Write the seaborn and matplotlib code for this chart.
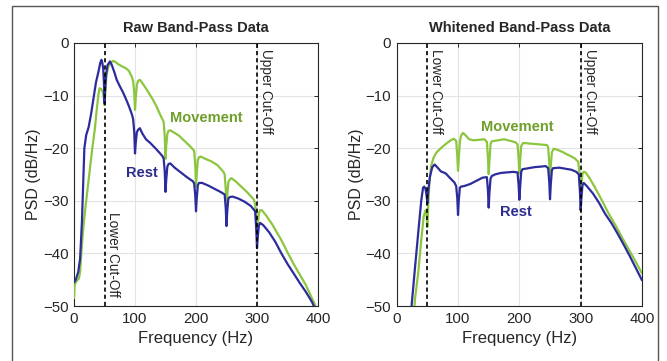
import numpy as np
import pandas as pd
import matplotlib
matplotlib.use("Agg")
import matplotlib.pyplot as plt
import seaborn as sns
from matplotlib.patches import Rectangle

# ---- data (frequency in Hz, PSD in dB/Hz) ----
raw_rest_f = [0, 3, 7, 10, 13, 15, 17, 20, 24, 28, 32, 36, 40, 43, 45, 46.5, 48, 49.2, 50, 51,
              52.5, 55, 59, 62, 66, 70, 75, 80, 85, 90, 95, 97, 98.8, 100, 101.2, 103, 105, 108,
              112, 118, 125, 135, 145, 147, 148.8, 150, 151.2, 153, 155, 158, 165, 175, 185, 195,
              197, 198.8, 200, 201.2, 203, 205, 210, 220, 230, 240, 247, 248.8, 250, 251.2, 253,
              255, 260, 270, 280, 290, 297, 298.8, 300, 301.2, 303, 305, 310, 320, 330, 340, 350,
              360, 370, 380, 390, 395]
raw_rest_v = [-45.5, -45, -43.5, -41, -34, -27, -20, -17.5, -16, -13.5, -10.5, -7.5, -5.5, -3.8,
              -3.2, -3.8, -5, -8, -11.5, -9, -6, -4.2, -3.5, -4.2, -5.5, -7, -8.2, -9.3, -10.6,
              -12, -13.6, -14.5, -17, -21, -19, -17, -16.5, -16.2, -17.2, -18.3, -19, -20.2,
              -21.5, -22, -24.5, -28.3, -26, -23.5, -23, -22.9, -23.7, -24.6, -25.5, -26.3, -26.7,
              -29, -32, -29.5, -27, -26.6, -26.6, -27.1, -27.7, -28.3, -28.8, -31.5, -34.8, -32,
              -29.6, -29.3, -29.2, -29.6, -30.2, -31, -32, -35.5, -39, -37, -34.8, -34.2, -34.6,
              -36, -37.8, -40, -42, -43.8, -45.6, -47.3, -49.2, -50.5]

raw_move_f = [0, 1, 4, 8, 10, 12, 15, 18, 22, 26, 30, 34, 37, 40, 42, 45, 47, 48.8, 50, 51.2,
              53, 56, 60, 64, 68, 72, 78, 85, 90, 95, 97, 98.8, 100, 101.2, 103, 105, 108, 112,
              120, 128, 135, 142, 147, 148.8, 150, 151.2, 153, 155, 158, 165, 172, 180, 190, 197,
              198.8, 200, 201.2, 203, 205, 208, 215, 225, 235, 245, 247, 248.8, 250, 251.2, 253,
              255, 258, 265, 275, 285, 295, 297, 298.8, 300, 301.2, 303, 305, 308, 315, 325, 340,
              350, 360, 370, 380, 390, 398]
raw_move_v = [-48.5, -46, -45.3, -44.8, -43.5, -40, -35.5, -32, -28, -24, -20, -16.5, -13, -9.8,
              -8.6, -8.8, -9.3, -10.3, -11.8, -9.5, -6.5, -4.5, -3.8, -3.4, -3.6, -4, -4.4, -4.8,
              -5.3, -6.5, -7.3, -9.5, -12.7, -10.5, -8, -7.2, -7, -7.6, -9, -10.5, -12, -13.8,
              -15, -17.8, -22, -19.5, -17.3, -16.7, -16.6, -17.1, -17.6, -18.5, -19.6, -20.5,
              -23.3, -27.3, -25, -22.3, -21.7, -21.6, -22, -22.5, -23.2, -24.5, -25, -27.8, -31.4,
              -29, -26.5, -26, -25.7, -26.3, -27.4, -28.5, -29.8, -30.6, -33.5, -36.8, -34.5,
              -32.5, -31.8, -31.8, -32.8, -34.5, -37.5, -39.8, -42, -44, -46, -48.5, -50.5]

wht_rest_f = [22, 25, 30, 35, 40, 43, 45, 47, 48.8, 50, 51.2, 54, 58, 62, 66, 72, 80, 88, 94,
              97, 98.8, 100, 101.2, 103, 105, 110, 120, 130, 140, 147, 148.8, 150, 151.2, 153,
              155, 160, 170, 180, 190, 197, 198.8, 200, 201.2, 203, 205, 215, 225, 235, 243, 247,
              248.8, 250, 251.2, 253, 255, 265, 275, 285, 293, 297, 298.8, 300, 301.2, 303, 305,
              310, 320, 330, 340, 350, 360, 370, 380, 390, 400]
wht_rest_v = [-53, -49, -42.5, -36.2, -30, -27.5, -27.3, -27.8, -29, -30.5, -28.5, -25.5, -23.6,
              -23.1, -23.6, -24.4, -24.8, -25.8, -26.5, -27.2, -29.5, -32.7, -30, -27.5, -27.3,
              -27.2, -26.8, -26.2, -25.6, -25.5, -28, -31.3, -28.5, -25.8, -25.3, -25, -24.7,
              -24.6, -24.5, -24.6, -27, -29.8, -27.5, -24.5, -24, -23.8, -23.6, -23.5, -23.4,
              -23.8, -26.5, -29.7, -27, -24.2, -23.8, -23.7, -23.9, -24.1, -24.5, -25, -28.3,
              -31.8, -29.5, -27, -26.6, -27.2, -28.6, -30.4, -32.5, -34.2, -36.2, -38.3, -40.5,
              -42.8, -45.1]

wht_move_f = [27, 30, 35, 40, 44, 47, 48.8, 50, 51.2, 53, 56, 60, 65, 72, 80, 88, 93, 97, 98.8,
              100, 101.2, 103, 105, 108, 112, 118, 125, 135, 143, 147, 148.8, 150, 151.2, 153,
              155, 165, 175, 185, 194, 197, 198.8, 200, 201.2, 203, 206, 215, 225, 235, 245, 247,
              248.8, 250, 251.2, 253, 256, 262, 270, 280, 290, 296, 298.8, 300, 301.2, 303, 305,
              308, 315, 323, 335, 345, 356, 370, 385, 400]
wht_move_v = [-53, -48.5, -43.8, -37.5, -33, -31.8, -32.8, -35, -31.5, -27, -23.5, -21.8, -20.8,
              -20, -19.2, -18.5, -18.2, -18.6, -21.5, -24.3, -22, -18.8, -17.6, -17.1, -17.5,
              -18.3, -18.5, -18.4, -18.3, -18.8, -21.8, -24.9, -22.5, -19.2, -18.7, -18.5, -18.3,
              -18.6, -18.9, -19.3, -22, -24.8, -22.5, -19.6, -19, -19.1, -19.2, -19.3, -19.4,
              -19.8, -22.8, -25.5, -23.5, -20.8, -20.1, -20.3, -20.7, -21.3, -21.9, -22.6, -25.5,
              -28.5, -27, -24.8, -24.5, -24.6, -25.8, -27.4, -30, -32.3, -34.5, -37.5, -40.6,
              -43.8]

cutoffs = [50, 300]
titles = ["Raw Band-Pass Data", "Whitened Band-Pass Data"]

rest_col = "#2c2c9c"
move_col = "#8cc63f"
move_txt = "#6f9f2a"
rest_txt = "#2c2c8c"

sns.set_theme(style="white")
plt.rcParams["font.family"] = ["Liberation Sans", "DejaVu Sans"]

fig = plt.figure(figsize=(6.67, 3.61), dpi=100)
fig.patch.set_facecolor("white")
ax1 = fig.add_axes([74 / 667, 55 / 361, 244 / 667, 263 / 361])
ax2 = fig.add_axes([396.7 / 667, 55 / 361, 245.3 / 667, 263 / 361])

panels = [
    (ax1, raw_rest_f, raw_rest_v, raw_move_f, raw_move_v),
    (ax2, wht_rest_f, wht_rest_v, wht_move_f, wht_move_v),
]

for i, (ax, rf, rv, mf, mv) in enumerate(panels):
    df = pd.DataFrame({"f": rf, "v": rv})
    dm = pd.DataFrame({"f": mf, "v": mv})
    sns.lineplot(data=dm, x="f", y="v", ax=ax, color=move_col, lw=1.6, zorder=3)
    sns.lineplot(data=df, x="f", y="v", ax=ax, color=rest_col, lw=1.6, zorder=4)
    for c in cutoffs:
        ax.axvline(c, color="black", lw=1.2, ls=(0, (2.5, 1.8)), zorder=5)
    ax.set_xlim(0, 400)
    ax.set_ylim(-50, 0)
    ax.set_xticks([0, 100, 200, 300, 400])
    ax.set_yticks([-50, -40, -30, -20, -10, 0])
    ax.grid(True, color="#e3e3e3", lw=0.8)
    ax.set_axisbelow(True)
    ax.tick_params(direction="in", length=3, width=0.7, labelsize=10.8,
                   colors="#262626", top=True, right=True, pad=4)
    for s in ax.spines.values():
        s.set_color("#262626")
        s.set_linewidth(0.8)
    ax.set_xlabel("Frequency (Hz)", fontsize=12, color="#262626", labelpad=4)
    ax.set_ylabel("PSD (dB/Hz)", fontsize=11.5, color="#262626", labelpad=1)
    ax.set_title(titles[i], fontsize=10.5, fontweight="bold", color="#262626", pad=8)

# annotations
ax1.text(157, -14.3, "Movement", color=move_txt, fontsize=10.5, fontweight="bold",
         ha="left", va="center")
ax1.text(85, -24.7, "Rest", color=rest_txt, fontsize=10.5, fontweight="bold",
         ha="left", va="center")
ax1.text(53, -32.2, "Lower Cut-Off", rotation=270, fontsize=9.8, color="#262626",
         ha="left", va="top")
ax1.text(303, -1.2, "Upper Cut-Off", rotation=270, fontsize=9.8, color="#262626",
         ha="left", va="top")

ax2.text(137, -15.9, "Movement", color=move_txt, fontsize=10.5, fontweight="bold",
         ha="left", va="center")
ax2.text(168, -32.1, "Rest", color=rest_txt, fontsize=10.5, fontweight="bold",
         ha="left", va="center")
ax2.text(53, -1.2, "Lower Cut-Off", rotation=270, fontsize=9.8, color="#262626",
         ha="left", va="top")
ax2.text(303, -1.2, "Upper Cut-Off", rotation=270, fontsize=9.8, color="#262626",
         ha="left", va="top")

# outer frame around the figure
fig.patches.append(Rectangle((12 / 667, -0.05), (658 - 12) / 667, 1 - 6 / 361 + 0.05,
                             transform=fig.transFigure, fill=False,
                             edgecolor="#555555", lw=1.0))

fig.savefig("out.png", dpi=100, facecolor="white")
